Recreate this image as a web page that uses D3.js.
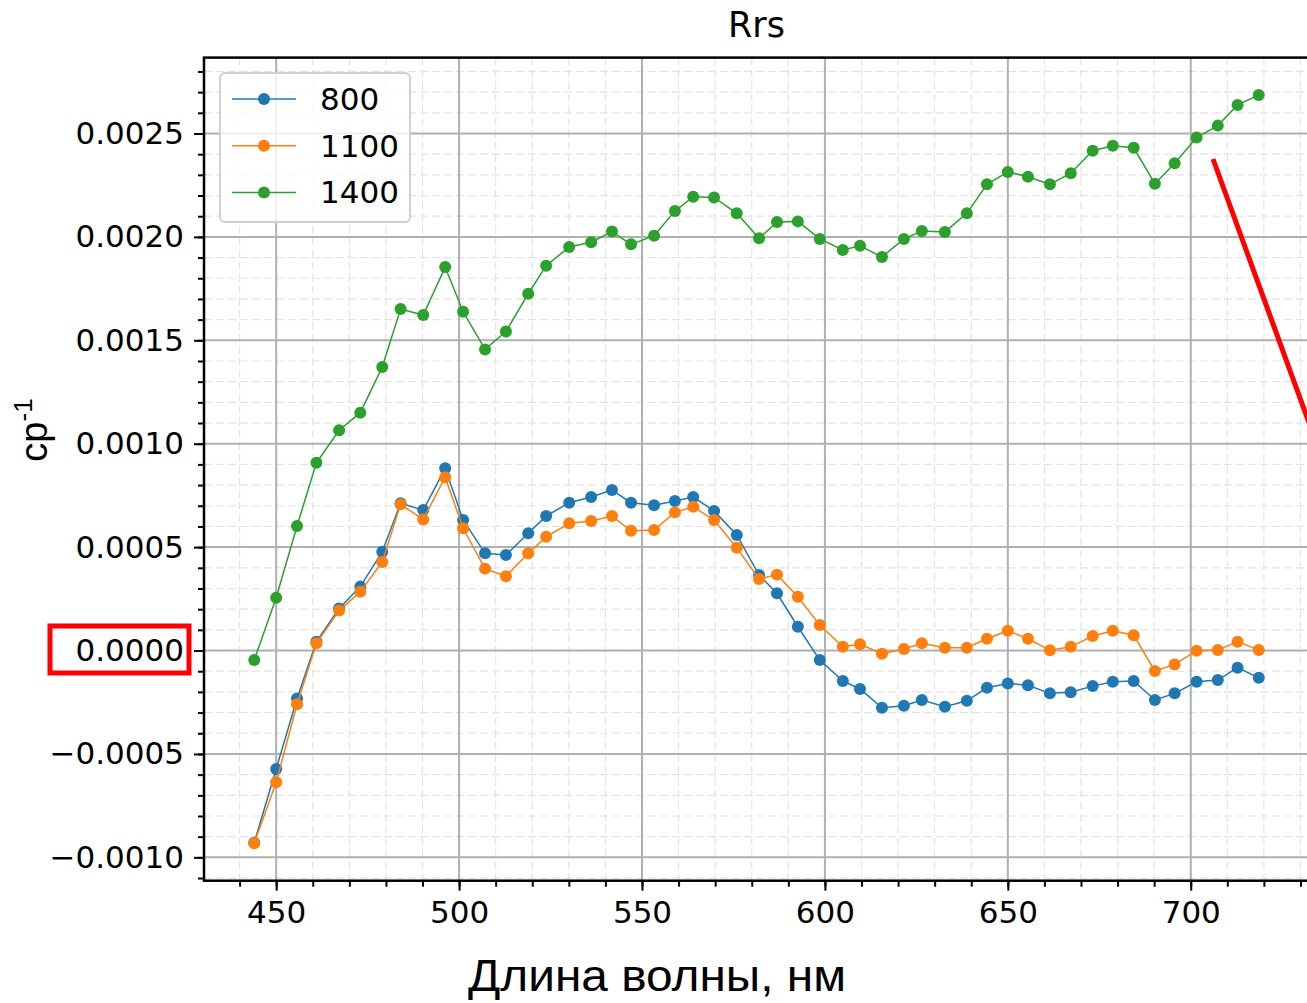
<!DOCTYPE html>
<html lang="ru">
<head>
    <meta charset="UTF-8">
    <title>Rrs</title>
    <script src="https://d3js.org/d3.v7.min.js"></script>
    <style>
        body { margin: 0; background: #fff; overflow: hidden; }
        svg { display: block; }
        .tick-label { font-family: "DejaVu Sans", sans-serif; font-size: 31px; fill: #000; }
        .legend-label { font-family: "DejaVu Sans", sans-serif; font-size: 31px; fill: #000; }
        .title { font-family: "DejaVu Sans", sans-serif; font-size: 35px; fill: #000; }
        .axis-name { font-family: "Liberation Sans", Arial, sans-serif; fill: #000; }
    </style>
</head>
<body>
<svg id="chart" width="1307" height="1003"></svg>
<script>
// wavelengths, nm
const wavelengths = [444, 450, 455.7, 461, 467.2, 473, 479, 484, 490.2, 496.2, 501.1, 507.1, 512.8,
    518.9, 523.8, 530.1, 536.1, 541.8, 547, 553.3, 559, 564, 569.7, 575.9, 582, 586.9, 592.6,
    598.6, 604.9, 609.6, 615.6, 621.6, 626.5, 632.8, 638.8, 644.3, 650, 655.5, 661.5, 667.2,
    673.2, 678.7, 684.4, 690.2, 695.6, 701.6, 707.4, 712.8, 718.6];

// Rrs values (x1e-4)
const rrs800 = [-9.29, -5.73, -2.32, 0.43, 2.03, 3.09, 4.78, 7.12, 6.79, 8.81, 6.31, 4.70, 4.62,
    5.67, 6.50, 7.15, 7.42, 7.76, 7.15, 7.02, 7.23, 7.42, 6.75, 5.59, 3.65, 2.77, 1.15,
    -0.46, -1.47, -1.86, -2.77, -2.67, -2.39, -2.72, -2.43, -1.80, -1.59, -1.68, -2.07, -2.02,
    -1.72, -1.51, -1.47, -2.39, -2.07, -1.51, -1.43, -0.83, -1.32];
const rrs1100 = [-9.32, -6.37, -2.60, 0.35, 1.93, 2.84, 4.28, 7.07, 6.34, 8.38, 5.91, 3.96, 3.59,
    4.70, 5.50, 6.15, 6.26, 6.50, 5.79, 5.83, 6.68, 6.95, 6.31, 4.97, 3.46, 3.67, 2.60,
    1.23, 0.18, 0.30, -0.15, 0.07, 0.35, 0.14, 0.14, 0.57, 0.96, 0.57, 0.01, 0.18,
    0.70, 0.96, 0.74, -0.99, -0.67, -0.01, 0.02, 0.43, 0.02];
const rrs1400 = [-0.46, 2.55, 6.02, 9.08, 10.65, 11.50, 13.71, 16.51, 16.22, 18.54, 16.38, 14.56, 15.42,
    17.25, 18.61, 19.51, 19.74, 20.26, 19.64, 20.06, 21.25, 21.94, 21.91, 21.14, 19.93, 20.72, 20.75,
    19.90, 19.37, 19.57, 19.03, 19.90, 20.29, 20.24, 21.14, 22.54, 23.14, 22.91, 22.54, 23.08,
    24.17, 24.41, 24.31, 22.57, 23.56, 24.80, 25.38, 26.38, 26.86];

const seriesNames = ["800", "1100", "1400"];
const seriesColors = ["#1f77b4", "#ff7f0e", "#2ca02c"];

const xTicks = [450, 500, 550, 600, 650, 700];
const yTicks = [-0.0010, -0.0005, 0.0000, 0.0005, 0.0010, 0.0015, 0.0020, 0.0025];

const title = "Rrs";
const xLabel = "Длина волны, нм";

const series = [rrs800, rrs1100, rrs1400].map((vals, i) => ({
    name: seriesNames[i],
    color: seriesColors[i],
    points: vals.map((v, j) => ({ x: wavelengths[j], y: v * 1e-4 }))
}));

const margin = { left: 204, top: 57.6, right: 1309, bottom: 880.7 };
const svg = d3.select("#chart");

// matplotlib style 5% margins
const xExt = d3.extent(wavelengths);
const xPad = (xExt[1] - xExt[0]) * 0.05;
const allY = series.flatMap(s => s.points.map(p => p.y));
const yExt = d3.extent(allY);
const yPad = (yExt[1] - yExt[0]) * 0.05;

const x = d3.scaleLinear().domain([xExt[0] - xPad, xExt[1] + xPad]).range([margin.left, margin.right]);
const y = d3.scaleLinear().domain([yExt[0] - yPad, yExt[1] + yPad]).range([margin.bottom, margin.top]);

const plotW = margin.right - margin.left;
const plotH = margin.bottom - margin.top;

const xMinor = d3.range(440, 740, 10).filter(v => v >= x.domain()[0] && v <= x.domain()[1]);
const yMinor = d3.range(-11, 29, 1).map(v => v * 1e-4).filter(v => v >= y.domain()[0] && v <= y.domain()[1]);

svg.append("defs").append("clipPath").attr("id", "clip")
    .append("rect").attr("x", margin.left).attr("y", margin.top).attr("width", plotW).attr("height", plotH);

// minor grid
const grid = svg.append("g");
grid.selectAll(".gxm").data(xMinor).enter().append("line")
    .attr("x1", d => x(d)).attr("x2", d => x(d)).attr("y1", margin.top).attr("y2", margin.bottom)
    .attr("stroke", "#e3e3e3").attr("stroke-width", 1.2).attr("stroke-dasharray", "8,4");
grid.selectAll(".gym").data(yMinor).enter().append("line")
    .attr("y1", d => y(d)).attr("y2", d => y(d)).attr("x1", margin.left).attr("x2", margin.right)
    .attr("stroke", "#e3e3e3").attr("stroke-width", 1.2).attr("stroke-dasharray", "8,4");
// major grid
grid.selectAll(".gx").data(xTicks).enter().append("line")
    .attr("x1", d => x(d)).attr("x2", d => x(d)).attr("y1", margin.top).attr("y2", margin.bottom)
    .attr("stroke", "#b0b0b0").attr("stroke-width", 2);
grid.selectAll(".gy").data(yTicks).enter().append("line")
    .attr("y1", d => y(d)).attr("y2", d => y(d)).attr("x1", margin.left).attr("x2", margin.right)
    .attr("stroke", "#b0b0b0").attr("stroke-width", 2);

// series
const line = d3.line().x(d => x(d.x)).y(d => y(d.y));
const plot = svg.append("g").attr("clip-path", "url(#clip)");
series.forEach(s => {
    plot.append("path").datum(s.points)
        .attr("d", line).attr("fill", "none").attr("stroke", s.color).attr("stroke-width", 1.5);
    plot.selectAll(null).data(s.points).enter().append("circle")
        .attr("cx", d => x(d.x)).attr("cy", d => y(d.y)).attr("r", 6).attr("fill", s.color);
});

// axes
const fmt = d3.format(".4f");
const xAxis = d3.axisBottom(x).tickValues(xTicks).tickSize(10).tickPadding(10).tickFormat(d3.format("d"));
const xAxisMinor = d3.axisBottom(x).tickValues(xMinor).tickSize(6).tickFormat("");
const yAxis = d3.axisLeft(y).tickValues(yTicks).tickSize(10).tickPadding(10).tickFormat(fmt);
const yAxisMinor = d3.axisLeft(y).tickValues(yMinor).tickSize(6).tickFormat("");

function styleAxis(g) {
    g.select(".domain").remove();
    g.selectAll(".tick line").attr("stroke", "#000").attr("stroke-width", 2);
    g.selectAll(".tick text").attr("class", "tick-label").attr("fill", null);
}

svg.append("g").attr("transform", `translate(0,${margin.bottom})`).call(xAxisMinor).call(styleAxis);
svg.append("g").attr("transform", `translate(0,${margin.bottom})`).call(xAxis).call(styleAxis);
svg.append("g").attr("transform", `translate(${margin.left},0)`).call(yAxisMinor).call(styleAxis);
svg.append("g").attr("transform", `translate(${margin.left},0)`).call(yAxis).call(styleAxis);

// frame
svg.append("rect").attr("x", margin.left).attr("y", margin.top).attr("width", plotW).attr("height", plotH)
    .attr("fill", "none").attr("stroke", "#000").attr("stroke-width", 2.5);

// legend
const legend = svg.append("g");
legend.append("rect").attr("x", 220).attr("y", 73).attr("width", 190).attr("height", 149)
    .attr("rx", 5).attr("fill", "#fff").attr("fill-opacity", 0.8)
    .attr("stroke", "#d0d0d0").attr("stroke-width", 2);
series.forEach((s, i) => {
    const ly = 99 + i * 46.7;
    legend.append("line").attr("x1", 232).attr("x2", 296).attr("y1", ly).attr("y2", ly)
        .attr("stroke", s.color).attr("stroke-width", 1.5);
    legend.append("circle").attr("cx", 264).attr("cy", ly).attr("r", 6).attr("fill", s.color);
    legend.append("text").attr("class", "legend-label").attr("x", 320).attr("y", ly + 11).text(s.name);
});

// title and axis names
svg.append("text").attr("class", "title").attr("x", (margin.left + margin.right) / 2).attr("y", 37)
    .attr("text-anchor", "middle").text(title);
svg.append("text").attr("class", "axis-name").attr("x", 468).attr("y", 991)
    .attr("font-size", 44).attr("textLength", 378).attr("lengthAdjust", "spacingAndGlyphs")
    .text(xLabel);
const yl = svg.append("text").attr("class", "axis-name")
    .attr("transform", "translate(47,430) rotate(-90)")
    .attr("text-anchor", "middle").attr("font-size", 38);
yl.append("tspan").text("cp");
yl.append("tspan").attr("dy", -15).attr("font-size", 26).text("-1");

// red annotations
svg.append("rect").attr("x", 50).attr("y", 626).attr("width", 139).attr("height", 47)
    .attr("fill", "none").attr("stroke", "#ff0000").attr("stroke-width", 5);
svg.append("line").attr("x1", 1213).attr("y1", 159).attr("x2", 1320).attr("y2", 453)
    .attr("stroke", "#ff0000").attr("stroke-width", 5);
</script>
</body>
</html>
